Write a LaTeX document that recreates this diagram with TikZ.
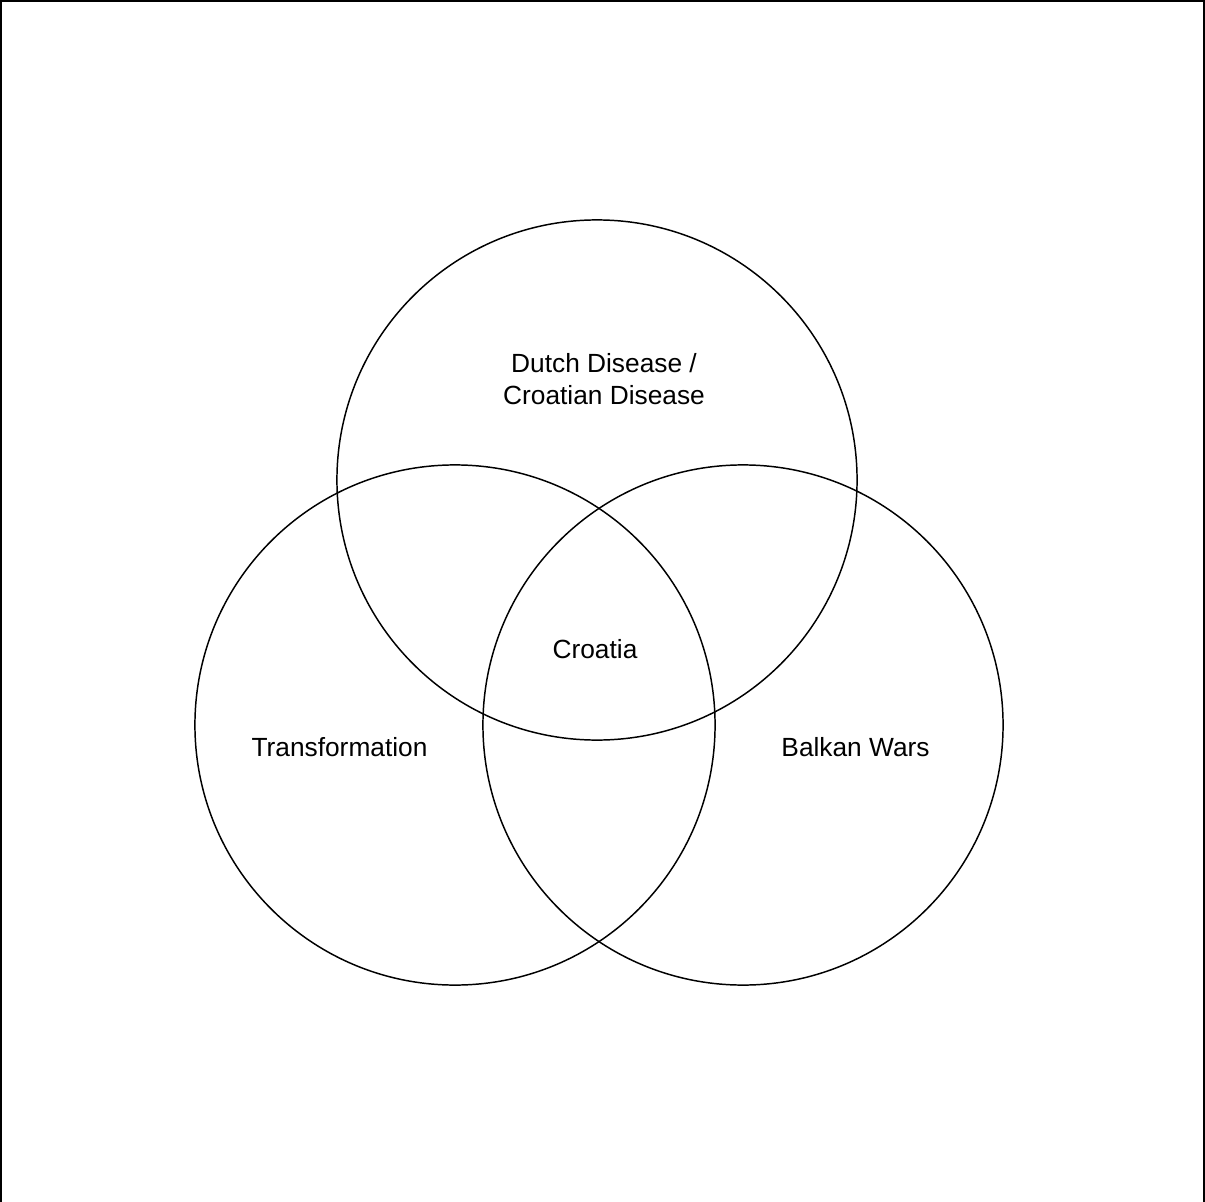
\documentclass[tikz,border=0pt]{standalone}
\usepackage{fontspec}
\setmainfont{Liberation Sans}
\begin{document}
\begin{tikzpicture}[x=0.025cm, y=-0.025cm, set/.style = {draw, circle, line width=1.05pt, minimum size=13cm, inner sep=0pt}, txt/.style = {inner sep=0pt, align=center, font=\fontsize{18.7pt}{22.7pt}\selectfont}]
			\useasboundingbox (0,0) rectangle (1205,1202);
			\draw[line width=1.4pt] (1,1) rectangle (1204,1202.6);
			\node[set] (dutch) at (597,480) {};
			\node[set] (trans) at (455,725) {};
			\node[set] (balkan) at (743,725) {};
			\node[txt] (dutchtxt) at (604,379) {Dutch Disease /\\Croatian Disease};
			\node[txt, anchor=base] (croatia) at (595,658) {Croatia};
			\node[txt, anchor=base] (transtxt) at (339.5,756) {Transformation};
			\node[txt, anchor=base] (balkantxt) at (855.5,756) {Balkan Wars};
		\end{tikzpicture}
\end{document}
